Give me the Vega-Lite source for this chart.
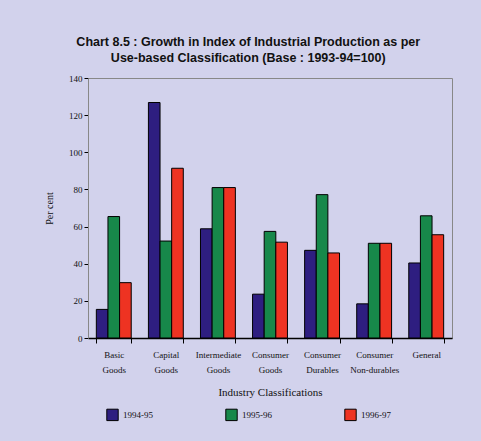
{
  "$schema": "https://vega.github.io/schema/vega-lite/v6.json",
  "width": 364,
  "height": 260,
  "autosize": {"type": "none"},
  "padding": {"left": 88, "top": 78, "right": 29, "bottom": 103},
  "background": "#d2d2ec",
  "title": {
    "text": ["Chart 8.5 : Growth in Index of Industrial Production as per", "Use-based Classification (Base : 1993-94=100)"],
    "font": "Liberation Sans",
    "fontSize": 12.5,
    "fontWeight": "bold",
    "color": "#111111",
    "anchor": "middle",
    "frame": "bounds",
    "offset": 10,
    "lineHeight": 16
  },
  "config": {
    "view": {"stroke": "#888888", "strokeWidth": 1, "fill": null},
    "axis": {"labelFont": "Liberation Serif", "titleFont": "Liberation Serif", "labelColor": "#111111", "titleColor": "#111111", "domainColor": "#000000", "tickColor": "#000000", "grid": false}
  },
  "data": {
    "values": [
      {"category": "Basic Goods", "year": "1994-95", "value": 15.4},
      {"category": "Basic Goods", "year": "1995-96", "value": 65.4},
      {"category": "Basic Goods", "year": "1996-97", "value": 29.8},
      {"category": "Capital Goods", "year": "1994-95", "value": 126.8},
      {"category": "Capital Goods", "year": "1995-96", "value": 52.2},
      {"category": "Capital Goods", "year": "1996-97", "value": 91.4},
      {"category": "Intermediate Goods", "year": "1994-95", "value": 58.8},
      {"category": "Intermediate Goods", "year": "1995-96", "value": 81},
      {"category": "Intermediate Goods", "year": "1996-97", "value": 81},
      {"category": "Consumer Goods", "year": "1994-95", "value": 23.6},
      {"category": "Consumer Goods", "year": "1995-96", "value": 57.4},
      {"category": "Consumer Goods", "year": "1996-97", "value": 51.6},
      {"category": "Consumer Durables", "year": "1994-95", "value": 47.2},
      {"category": "Consumer Durables", "year": "1995-96", "value": 77.2},
      {"category": "Consumer Durables", "year": "1996-97", "value": 45.8},
      {"category": "Consumer Non-durables", "year": "1994-95", "value": 18.4},
      {"category": "Consumer Non-durables", "year": "1995-96", "value": 51},
      {"category": "Consumer Non-durables", "year": "1996-97", "value": 51},
      {"category": "General", "year": "1994-95", "value": 40.4},
      {"category": "General", "year": "1995-96", "value": 65.8},
      {"category": "General", "year": "1996-97", "value": 55.6}
    ]
  },
  "mark": {"type": "bar", "stroke": "#000000", "strokeWidth": 1},
  "encoding": {
    "x": {
      "field": "category",
      "type": "nominal",
      "sort": null,
      "scale": {"paddingInner": 0.33, "paddingOuter": 0.16},
      "axis": {
        "title": "Industry Classifications",
        "titleFontSize": 11,
        "titleFontWeight": "normal",
        "titlePadding": 12,
        "labelAngle": 0,
        "labelFontSize": 9,
        "labelExpr": "split(replace(datum.label, ' ', '|'), '|')",
        "labelLineHeight": 15,
        "labelPadding": 7,
        "tickBand": "extent",
        "tickSize": 5,
        "domainWidth": 1.5
      }
    },
    "xOffset": {"field": "year", "type": "nominal", "sort": ["1994-95", "1995-96", "1996-97"], "scale": {"paddingInner": 0}},
    "y": {
      "field": "value",
      "type": "quantitative",
      "scale": {"domain": [0, 140], "nice": false},
      "axis": {
        "title": "Per cent",
        "titleFontSize": 10,
        "titleFontWeight": "normal",
        "titlePadding": 14,
        "values": [0, 20, 40, 60, 80, 100, 120, 140],
        "labelFontSize": 9,
        "tickSize": 4,
        "domainColor": "#888888"
      }
    },
    "fill": {
      "field": "year",
      "type": "nominal",
      "sort": ["1994-95", "1995-96", "1996-97"],
      "scale": {"domain": ["1994-95", "1995-96", "1996-97"], "range": ["#2e1e80", "#17884a", "#ee3322"]},
      "legend": {
        "title": null,
        "orient": "none",
        "legendX": 18,
        "legendY": 330,
        "direction": "horizontal",
        "symbolType": "square",
        "symbolSize": 130,
        "symbolStrokeColor": "#000000",
        "symbolStrokeWidth": 1,
        "labelFont": "Liberation Serif",
        "labelFontSize": 9,
        "labelColor": "#111111",
        "columnPadding": 70,
        "labelLimit": 80
      }
    }
  }
}
